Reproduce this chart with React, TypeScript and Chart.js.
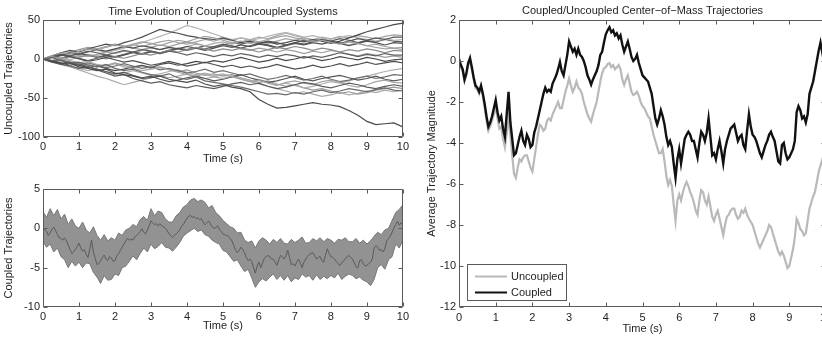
import React, { useEffect, useRef } from 'react';
import { Chart, registerables } from 'chart.js';

Chart.register(...registerables);

// ---------------- DATA ----------------
const TIME_MIN = 0;
const TIME_MAX = 10;
const UNCOUPLED_STEP = 0.25; // s between samples of each uncoupled trajectory
const BAND_STEP = 0.1; // s between samples of the coupled band envelope
const COM_STEP = 0.05; // s between samples of center-of-mass curves

const topTitle = 'Time Evolution of Coupled/Uncoupled Systems';
const rightTitle = 'Coupled/Uncoupled Center\u2212of\u2212Mass Trajectories';
const xAxisTitle = 'Time (s)';
const legendLabels = ['Uncoupled', 'Coupled'];

// Individual uncoupled random-walk trajectories (value every 0.25 s)
const uncoupledTrajectories: number[][] = [
  [0,-3,-6,-5,-10,-12,-15,-13,-18,-20,-22,-25,-24,-22,-26,-28,-30,-27,-32,-35,-33,-36,-38,-42,-52,-58,-63,-62,-60,-58,-56,-58,-59,-61,-66,-72,-80,-84,-83,-82,-87],
  [0,2,-2,-5,-4,-8,-10,-7,-12,-15,-13,-17,-20,-22,-19,-24,-26,-23,-28,-30,-32,-34,-36,-39,-42,-45,-44,-46,-43,-45,-42,-40,-43,-41,-38,-40,-42,-39,-37,-40,-41],
  [0,-4,-7,-9,-12,-10,-14,-18,-22,-20,-25,-28,-31,-29,-33,-35,-37,-34,-36,-38,-35,-32,-30,-33,-31,-35,-38,-36,-33,-30,-32,-35,-37,-34,-31,-33,-36,-38,-35,-33,-35],
  [0,3,1,-2,-5,-3,-7,-9,-6,-10,-12,-15,-13,-11,-14,-17,-20,-22,-19,-23,-25,-22,-26,-29,-27,-31,-34,-30,-28,-31,-33,-29,-27,-30,-34,-36,-33,-29,-27,-30,-31],
  [0,-2,-5,-8,-6,-10,-13,-16,-19,-17,-21,-24,-22,-26,-29,-27,-24,-22,-25,-28,-26,-23,-20,-24,-27,-30,-28,-25,-22,-26,-28,-25,-23,-21,-24,-27,-25,-22,-26,-28,-26],
  [0,-3,-1,-4,-7,-5,-8,-11,-9,-6,-9,-12,-10,-14,-12,-15,-18,-16,-13,-17,-15,-18,-21,-19,-23,-26,-24,-21,-24,-27,-25,-22,-26,-29,-27,-24,-22,-25,-23,-20,-21],
  [0,-2,-6,-9,-12,-15,-13,-17,-20,-18,-15,-18,-21,-19,-16,-14,-17,-20,-18,-21,-19,-22,-25,-28,-26,-30,-33,-31,-34,-37,-35,-32,-29,-31,-28,-25,-22,-19,-16,-14,-12],
  [0,2,5,3,0,-3,-1,2,-1,-4,-2,-5,-8,-6,-3,-6,-9,-7,-4,-7,-10,-8,-11,-9,-12,-10,-7,-10,-13,-11,-8,-11,-9,-6,-9,-7,-4,-7,-5,-3,-5],
  [0,-3,-6,-4,-8,-11,-9,-12,-15,-13,-10,-8,-11,-7,-5,-8,-6,-3,-5,-2,-4,-1,2,-1,-4,-2,1,-2,0,3,1,-2,0,3,1,-1,2,0,-3,-1,0],
  [0,3,6,4,7,10,8,5,8,11,9,12,10,7,10,8,5,8,6,3,6,4,7,5,2,5,3,6,4,1,4,2,5,8,6,3,6,4,7,5,5],
  [0,-2,1,4,2,5,3,0,3,1,4,7,5,8,11,9,12,15,13,10,13,11,14,12,9,12,15,13,16,14,11,14,12,9,12,10,13,11,8,11,10],
  [0,4,8,6,10,13,11,15,18,16,19,22,20,17,21,24,22,26,29,27,24,21,23,20,22,25,28,30,27,25,22,24,21,19,22,20,17,19,16,14,15],
  [0,2,5,8,6,9,12,10,13,16,14,17,15,12,15,13,16,14,11,14,17,15,18,16,19,17,14,17,20,18,21,19,22,20,17,20,23,21,18,21,20],
  [0,3,1,4,7,5,2,5,3,6,9,7,10,8,11,14,12,15,13,16,19,17,14,17,20,18,15,18,21,19,22,25,23,20,23,26,24,27,25,28,28],
  [0,4,8,11,9,13,16,19,17,21,24,28,33,38,35,33,30,28,26,25,27,24,21,23,20,22,19,21,24,22,25,23,20,23,27,31,35,38,41,44,46],
  [0,-2,1,-1,3,6,4,8,11,14,17,21,25,29,33,38,43,40,36,32,28,25,27,24,26,29,32,34,31,28,30,27,25,28,30,27,25,23,26,24,25],
  [0,2,-1,2,5,3,6,9,7,10,8,11,14,12,15,13,16,19,17,20,22,19,22,25,28,26,30,33,30,27,24,26,23,21,18,20,17,15,13,14,12],
  [0,-4,-2,-6,-9,-7,-10,-8,-5,-8,-11,-9,-12,-10,-13,-16,-14,-18,-21,-19,-22,-20,-24,-27,-30,-28,-32,-35,-33,-37,-40,-38,-41,-44,-42,-45,-43,-40,-38,-36,-38],
  [0,3,6,9,12,15,13,16,19,17,14,12,15,18,16,19,22,20,17,15,18,16,13,11,14,12,9,12,10,7,10,8,11,9,6,4,7,5,2,4,2],
  [0,-3,0,3,1,-2,1,4,2,5,8,6,9,7,10,13,11,14,17,15,18,21,19,22,20,23,21,18,21,24,22,25,23,26,24,21,24,22,25,23,22],
  [0,-3,-7,-10,-14,-18,-22,-25,-29,-33,-30,-27,-24,-21,-24,-22,-19,-22,-25,-23,-20,-23,-26,-29,-32,-35,-38,-41,-44,-42,-45,-48,-46,-43,-46,-44,-41,-43,-40,-42,-40],
  [0,2,4,7,10,13,11,9,12,15,18,16,19,22,24,21,19,22,25,23,26,24,27,25,22,20,23,26,24,27,25,28,26,29,27,30,28,26,29,31,30],
];

// Coupled trajectories: upper / lower envelope of the band (value every 0.1 s)
const coupledBandUpper = [
  2.1,1.4,2.5,1.6,2.4,1.2,1.8,0.5,1.2,0.3,
  0.0,0.8,-0.2,-0.6,0.2,-0.9,-1.5,-0.8,-1.6,-1.2,
  -1.5,-0.6,-0.9,-0.2,0.0,0.5,0.2,1.1,1.5,1.0,
  2.5,1.6,2.2,2.0,1.2,0.8,0.8,1.6,2.0,2.7,
  3.0,3.6,3.8,3.4,3.6,3.3,2.6,2.9,2.0,1.6,
  1.0,0.6,0.2,0.0,-0.6,-0.5,-1.5,-1.8,-1.6,-2.5,
  -1.6,-1.2,-1.5,-2.0,-1.4,-1.8,-1.3,-1.9,-2.0,-1.4,
  -1.8,-1.5,-1.1,-1.9,-1.8,-1.3,-1.6,-1.2,-1.7,-1.3,
  -1.5,-1.9,-1.4,-1.5,-1.2,-1.7,-1.7,-1.3,-1.9,-1.5,
  -2.0,-1.6,-1.0,-0.5,-0.8,-0.2,0.0,1.0,2.0,2.4,
  3.0,
];
const coupledBandLower = [
  -1.7,-2.4,-2.0,-3.0,-2.5,-3.6,-4.0,-5.0,-4.2,-4.8,
  -4.3,-5.0,-4.4,-4.5,-5.6,-6.2,-7.0,-6.0,-6.6,-6.5,
  -5.8,-6.0,-5.0,-4.8,-4.2,-3.5,-4.0,-3.2,-2.5,-3.0,
  -2.0,-2.6,-2.3,-1.8,-2.4,-2.5,-2.9,-2.4,-1.8,-1.0,
  -0.6,-0.3,0.0,-0.4,-0.2,-0.8,-1.0,-1.5,-1.8,-2.0,
  -2.8,-3.0,-3.6,-4.2,-4.0,-4.8,-5.5,-5.2,-6.3,-7.5,
  -6.8,-6.4,-6.7,-6.2,-5.8,-6.5,-6.0,-6.6,-6.0,-6.8,
  -6.3,-6.5,-5.8,-6.2,-6.0,-6.6,-5.9,-6.5,-6.1,-6.4,
  -6.0,-6.3,-5.7,-6.5,-6.1,-5.8,-6.0,-6.4,-6.2,-6.6,
  -6.8,-7.3,-6.5,-5.0,-4.6,-5.2,-4.0,-3.6,-2.0,-2.5,
  -1.5,
];

// Center-of-mass trajectories (value every 0.05 s)
const comCoupled = [
  0.1,-0.2,-0.4,-0.9,-0.6,-0.1,0.15,-0.3,-0.8,-1.2,-1.3,-1.5,-1.2,-1.6,-2.1,-2.7,-3.2,-3.0,-2.7,-2.3,
  -1.9,-2.5,-2.9,-2.7,-3.3,-3.7,-2.6,-1.5,-3.0,-3.8,-4.6,-4.5,-4.1,-3.7,-3.4,-3.9,-4.1,-3.6,-3.8,-4.2,
  -4.1,-3.5,-3.2,-2.8,-2.4,-2.0,-1.6,-1.3,-1.5,-1.4,-1.5,-1.1,-0.9,-0.7,-0.4,-0.05,-0.5,-0.7,-0.2,0.3,
  0.95,0.7,0.45,0.6,0.3,0.6,0.3,0.2,0.0,-0.3,-0.7,-0.9,-1.15,-0.9,-0.7,-0.5,-0.2,0.3,0.45,0.9,
  1.3,1.5,1.65,1.4,1.5,1.25,1.35,1.1,1.25,0.8,0.45,0.7,0.95,0.6,0.2,0.0,0.1,0.3,-0.1,-0.4,
  -0.7,-0.8,-0.9,-1.0,-1.3,-1.6,-2.2,-2.8,-3.1,-2.8,-2.4,-2.7,-3.1,-3.7,-4.1,-3.9,-4.2,-5.0,-5.7,-4.8,
  -4.3,-5.0,-4.4,-3.8,-3.6,-3.45,-3.6,-3.9,-3.9,-4.3,-4.7,-4.0,-3.45,-3.6,-3.9,-3.5,-2.8,-3.7,-4.6,-4.5,
  -4.8,-4.3,-3.9,-4.4,-5.0,-4.3,-3.9,-3.6,-3.3,-3.2,-3.1,-3.5,-3.9,-3.7,-3.6,-4.1,-4.3,-3.4,-2.6,-3.2,
  -3.6,-3.7,-3.9,-4.2,-4.5,-4.7,-4.4,-4.1,-3.9,-3.6,-3.45,-3.7,-3.9,-4.4,-4.9,-5.0,-4.1,-4.0,-4.5,-4.8,
  -4.7,-4.5,-4.3,-3.9,-2.5,-2.2,-2.4,-2.8,-2.7,-3.0,-2.6,-1.6,-1.3,-1.0,-0.5,0.0,0.5,0.9,0.4,0.7,
  0.55,
];
const comUncoupled = [
  0.05,-0.3,-0.5,-1.0,-0.7,-0.2,0.05,-0.4,-0.9,-1.3,-1.4,-1.6,-1.3,-1.7,-2.3,-2.9,-3.4,-3.2,-2.9,-2.6,
  -2.2,-2.8,-3.3,-3.2,-3.8,-4.2,-3.5,-2.8,-3.6,-4.6,-5.5,-5.7,-5.2,-4.8,-4.9,-4.7,-4.6,-4.6,-4.9,-5.2,
  -5.4,-4.8,-4.2,-3.6,-3.1,-3.2,-3.4,-3.3,-2.9,-2.8,-2.9,-2.6,-2.4,-2.2,-2.0,-2.3,-2.3,-1.9,-1.5,-1.2,
  -0.85,-1.2,-1.5,-1.3,-1.0,-1.3,-1.4,-1.6,-2.0,-2.3,-2.6,-2.8,-2.96,-2.6,-2.3,-2.0,-1.5,-1.0,-0.6,-0.36,
  -0.3,-0.15,-0.1,-0.3,-0.2,-0.4,-0.3,-0.2,-0.4,-0.9,-1.17,-0.9,-0.7,-1.1,-1.5,-1.66,-1.6,-1.5,-1.7,-2.0,
  -2.2,-2.3,-2.5,-2.7,-2.8,-3.2,-3.6,-3.9,-4.2,-4.5,-4.5,-4.3,-4.9,-5.6,-6.05,-5.8,-6.1,-7.0,-7.8,-6.8,
  -6.5,-6.8,-6.4,-6.1,-5.9,-6.1,-6.4,-6.6,-6.9,-7.3,-7.5,-6.8,-6.3,-6.4,-6.8,-7.0,-6.6,-7.1,-7.6,-7.8,
  -7.5,-7.3,-7.7,-8.1,-8.5,-8.0,-7.6,-7.5,-7.3,-7.2,-7.2,-7.5,-7.7,-7.6,-7.3,-7.4,-7.2,-7.5,-7.7,-7.84,
  -8.0,-8.3,-8.6,-8.9,-9.1,-8.9,-8.7,-8.5,-8.3,-8.0,-8.1,-8.4,-8.7,-9.0,-9.3,-9.46,-9.3,-9.5,-9.8,-10.1,
  -10.0,-9.6,-9.2,-8.6,-7.7,-7.9,-8.2,-8.3,-8.5,-8.4,-7.8,-7.2,-6.9,-6.6,-6.37,-5.9,-5.4,-5.1,-4.8,-4.9,
  -5.1,
];

// ---------------- STYLE ----------------
const FONT = '"Liberation Sans", Arial, Helvetica, sans-serif';
const TEXT = '#1e1e1e';
const trajectoryPalette = [
  '#4a4a4a','#6a6a6a','#5c5c5c','#a5a5a5','#555555','#6e6e6e','#b0b0b0','#505050',
  '#474747','#606060','#8c8c8c','#a0a0a0','#4f4f4f','#565656','#4c4c4c','#b4b4b4',
  '#a8a8a8','#999999','#9e9e9e','#5a5a5a','#aaaaaa','#a3a3a3',
];

const toPoints = (vals: number[], step: number) =>
  vals.map((v, i) => ({ x: Math.round(i * step * 1000) / 1000, y: v }));

// box + inward ticks on all sides (MATLAB look)
const matlabAxes = {
  id: 'matlabAxes',
  afterDatasetsDraw(chart: any) {
    const { ctx, chartArea, scales } = chart;
    const { left, right, top, bottom } = chartArea;
    const L = Math.round(left) + 0.5, R = Math.round(right) - 0.5;
    const T = Math.round(top) + 0.5, B = Math.round(bottom) - 0.5;
    ctx.save();
    ctx.strokeStyle = '#5a5a5a';
    ctx.lineWidth = 1;
    ctx.beginPath();
    ctx.rect(L, T, R - L, B - T);
    const tl = 4;
    scales.x.ticks.forEach((tk: any) => {
      const px = Math.round(scales.x.getPixelForValue(tk.value)) + 0.5;
      ctx.moveTo(px, B); ctx.lineTo(px, B - tl);
      ctx.moveTo(px, T); ctx.lineTo(px, T + tl);
    });
    scales.y.ticks.forEach((tk: any) => {
      const py = Math.round(scales.y.getPixelForValue(tk.value)) + 0.5;
      ctx.moveTo(L, py); ctx.lineTo(L + tl, py);
      ctx.moveTo(R, py); ctx.lineTo(R - tl, py);
    });
    ctx.stroke();
    ctx.restore();
  },
};

const insetLegend = {
  id: 'insetLegend',
  afterDraw(chart: any) {
    const { ctx, chartArea } = chart;
    const w = 99, h = 36;
    const x = Math.round(chartArea.left) + 8;
    const y = Math.round(chartArea.bottom) - 7 - h;
    ctx.save();
    ctx.fillStyle = '#ffffff';
    ctx.fillRect(x, y, w, h);
    ctx.strokeStyle = '#5a5a5a';
    ctx.lineWidth = 1;
    ctx.strokeRect(x + 0.5, y + 0.5, w, h);
    ctx.font = `11px ${FONT}`;
    ctx.textBaseline = 'middle';
    ctx.textAlign = 'left';
    chart.data.datasets.forEach((ds: any, i: number) => {
      const ry = y + 12 + i * 16;
      ctx.strokeStyle = ds.borderColor;
      ctx.lineWidth = 2;
      ctx.beginPath();
      ctx.moveTo(x + 8, ry + 0.5);
      ctx.lineTo(x + 40, ry + 0.5);
      ctx.stroke();
      ctx.fillStyle = TEXT;
      ctx.fillText(ds.label, x + 44, ry + 0.5);
    });
    ctx.restore();
  },
};

function makeScales(opts: {
  yMin: number; yMax: number; yStep: number; yTitle: string;
  yWidth: number; yTitlePad: number; xHeight: number; xTitlePad: number; xTickPad: number;
}) {
  const tickFont = { family: FONT, size: 11 };
  return {
    x: {
      type: 'linear', min: TIME_MIN, max: TIME_MAX,
      ticks: { stepSize: 1, padding: opts.xTickPad, color: TEXT, font: tickFont, maxRotation: 0, autoSkip: false },
      grid: { display: false, drawTicks: false },
      border: { display: false },
      title: { display: true, text: xAxisTitle, color: TEXT, font: tickFont, padding: { top: 0, bottom: opts.xTitlePad } },
      afterFit: (a: any) => { a.height = opts.xHeight; },
    },
    y: {
      type: 'linear', min: opts.yMin, max: opts.yMax,
      ticks: { stepSize: opts.yStep, padding: 3, color: TEXT, font: tickFont },
      grid: { display: false, drawTicks: false },
      border: { display: false },
      title: { display: true, text: opts.yTitle, color: TEXT, font: tickFont, padding: { top: opts.yTitlePad, bottom: 0 } },
      afterFit: (a: any) => { a.width = opts.yWidth; },
    },
  };
}

function ChartBox({ left, top, width, height, build }: any) {
  const ref = useRef<HTMLCanvasElement | null>(null);
  useEffect(() => {
    if (!ref.current) return;
    const chart = new Chart(ref.current, build());
    return () => chart.destroy();
  }, []);
  return (
    <canvas
      ref={ref}
      width={width}
      height={height}
      style={{ position: 'absolute', left, top, width, height }}
    />
  );
}

const buildTop = () => ({
  type: 'line',
  data: {
    datasets: uncoupledTrajectories.map((tr, i) => ({
      label: `Trajectory ${i + 1}`,
      data: toPoints(tr, UNCOUPLED_STEP),
      borderColor: trajectoryPalette[i % trajectoryPalette.length],
      borderWidth: 1.2,
      pointRadius: 0,
      tension: 0,
      fill: false,
    })),
  },
  options: {
    responsive: false, animation: false, devicePixelRatio: 1,
    layout: { padding: { left: 0, right: 0, top: 0, bottom: 0 } },
    plugins: {
      legend: { display: false }, tooltip: { enabled: false },
      title: { display: true, text: topTitle, color: TEXT, fullSize: false,
        font: { family: FONT, size: 11, weight: 'normal' }, padding: { top: 5, bottom: 1.8 } },
    },
    scales: makeScales({ yMin: -100, yMax: 50, yStep: 50, yTitle: 'Uncoupled Trajectories',
      yWidth: 43, yTitlePad: 2, xHeight: 33, xTitlePad: 4.6, xTickPad: 3 }),
  },
  plugins: [matlabAxes],
});

const buildBottom = () => ({
  type: 'line',
  data: {
    datasets: [
      { label: 'lower', data: toPoints(coupledBandLower, BAND_STEP), borderColor: '#767676', borderWidth: 1,
        pointRadius: 0, tension: 0, fill: false, order: 1 },
      { label: 'upper', data: toPoints(coupledBandUpper, BAND_STEP), borderColor: '#767676', borderWidth: 1,
        backgroundColor: '#929292', pointRadius: 0, tension: 0, fill: '-1', order: 1 },
      { label: 'mean', data: toPoints(comCoupled, COM_STEP), borderColor: '#5a5a5a', borderWidth: 1,
        pointRadius: 0, tension: 0, fill: false, order: 0 },
    ],
  },
  options: {
    responsive: false, animation: false, devicePixelRatio: 1,
    layout: { padding: { left: 0, right: 0, top: 19, bottom: 0 } },
    plugins: { legend: { display: false }, tooltip: { enabled: false }, title: { display: false } },
    scales: makeScales({ yMin: -10, yMax: 5, yStep: 5, yTitle: 'Coupled Trajectories',
      yWidth: 43, yTitlePad: 2, xHeight: 32, xTitlePad: 6.6, xTickPad: 3 }),
  },
  plugins: [matlabAxes],
});

const buildRight = () => ({
  type: 'line',
  data: {
    datasets: [
      { label: legendLabels[0], data: toPoints(comUncoupled, COM_STEP), borderColor: '#b9b9b9', borderWidth: 2.2,
        pointRadius: 0, tension: 0, fill: false, order: 1 },
      { label: legendLabels[1], data: toPoints(comCoupled, COM_STEP), borderColor: '#111111', borderWidth: 2.4,
        pointRadius: 0, tension: 0, fill: false, order: 0 },
    ],
  },
  options: {
    responsive: false, animation: false, devicePixelRatio: 1,
    layout: { padding: { left: 0, right: 16, top: 0, bottom: 0 } },
    plugins: {
      legend: { display: false }, tooltip: { enabled: false },
      title: { display: true, text: rightTitle, color: TEXT, fullSize: false,
        font: { family: FONT, size: 11, weight: 'normal' }, padding: { top: 4, bottom: 2.8 } },
    },
    scales: makeScales({ yMin: -12, yMax: 2, yStep: 2, yTitle: 'Average Trajectory Magnitude',
      yWidth: 47, yTitlePad: 13.4, xHeight: 32, xTitlePad: 3, xTickPad: 4.5 }),
  },
  plugins: [matlabAxes, insetLegend],
});

export default function App() {
  return (
    <div style={{ position: 'fixed', left: 0, top: 0, width: 822, height: 339, overflow: 'hidden', background: '#fff' }}>
      <ChartBox left={0} top={0} width={412} height={170} build={buildTop} />
      <ChartBox left={0} top={170} width={412} height={169} build={buildBottom} />
      <ChartBox left={412} top={0} width={430} height={339} build={buildRight} />
    </div>
  );
}
